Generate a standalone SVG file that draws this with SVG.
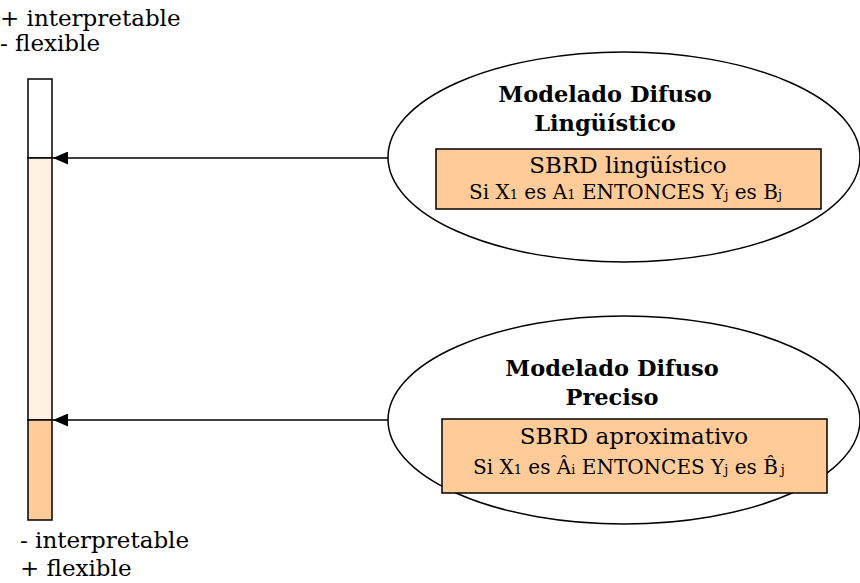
<svg xmlns="http://www.w3.org/2000/svg" width="860" height="583" viewBox="0 0 860 583">
  <defs>
    <marker id="arrow" markerWidth="15" markerHeight="13" refX="15" refY="6.5" orient="auto" markerUnits="userSpaceOnUse">
      <path d="M0,0 L15,6.5 L0,13 Z" fill="#000"/>
    </marker>
    <style>
      .lbl { font-family: "DejaVu Serif", "Liberation Serif", serif; font-size: 23px; fill: #000; }
      .title { font-family: "DejaVu Serif", "Liberation Serif", serif; font-size: 22.5px; font-weight: bold; fill: #000; text-anchor: middle; }
      .sbrd { font-family: "DejaVu Serif", "Liberation Serif", serif; font-size: 23px; fill: #000; text-anchor: middle; }
      .rule { font-family: "DejaVu Serif", "Liberation Serif", serif; font-size: 20px; fill: #000; }
      .sub { font-size: 13px; }
      .oval { fill: #fff; stroke: #000; stroke-width: 1.5; }
      .box { fill: #FFCC99; stroke: #000; stroke-width: 1.5; }
      .conn { stroke: #000; stroke-width: 1.5; fill: none; }
    </style>
  </defs>

  <rect width="860" height="583" fill="#fff"/>

  <!-- scale labels -->
  <text class="lbl" x="0" y="26">+ interpretable</text>
  <text class="lbl" x="0" y="51">- flexible</text>
  <text class="lbl" x="20" y="548">- interpretable</text>
  <text class="lbl" x="20" y="576">+ flexible</text>

  <!-- interpretability / flexibility bar -->
  <g id="bar">
    <rect x="28" y="79" width="24" height="79" fill="#fff" stroke="#000" stroke-width="1.5"/>
    <rect x="28" y="158" width="24" height="262" fill="#FFF0E2" stroke="#000" stroke-width="1.5"/>
    <rect x="28" y="420" width="24" height="100" fill="#FFCC99" stroke="#000" stroke-width="1.5"/>
  </g>

  <g id="connectors">
    <line class="conn" x1="388" y1="158" x2="53" y2="158" marker-end="url(#arrow)"/>
    <line class="conn" x1="388" y1="420" x2="53" y2="420" marker-end="url(#arrow)"/>
  </g>

  <g id="linguistico">
    <ellipse class="oval" cx="624" cy="157" rx="236" ry="105"/>
    <text class="title" x="605" y="102">Modelado Difuso</text>
    <text class="title" x="605" y="131">Lingüístico</text>
    <rect class="box" x="436" y="149" width="385" height="60"/>
    <text class="sbrd" x="628" y="173">SBRD lingüístico</text>
    <text class="rule" x="469" y="199">Si X<tspan class="sub">1</tspan> es A<tspan class="sub">1</tspan> ENTONCES Y<tspan class="sub">j</tspan> es B<tspan class="sub">j</tspan></text>
  </g>

  <g id="preciso">
    <ellipse class="oval" cx="624" cy="420" rx="236" ry="104"/>
    <text class="title" x="612" y="376">Modelado Difuso</text>
    <text class="title" x="612" y="405">Preciso</text>
    <rect class="box" x="442" y="419" width="385" height="74"/>
    <text class="sbrd" x="634" y="444">SBRD aproximativo</text>
    <text class="rule" x="473" y="474">Si X<tspan class="sub">1</tspan> es Â<tspan class="sub">i</tspan> ENTONCES Y<tspan class="sub">j</tspan> es  B̂<tspan class="sub" dx="3">j</tspan></text>
  </g>
</svg>
